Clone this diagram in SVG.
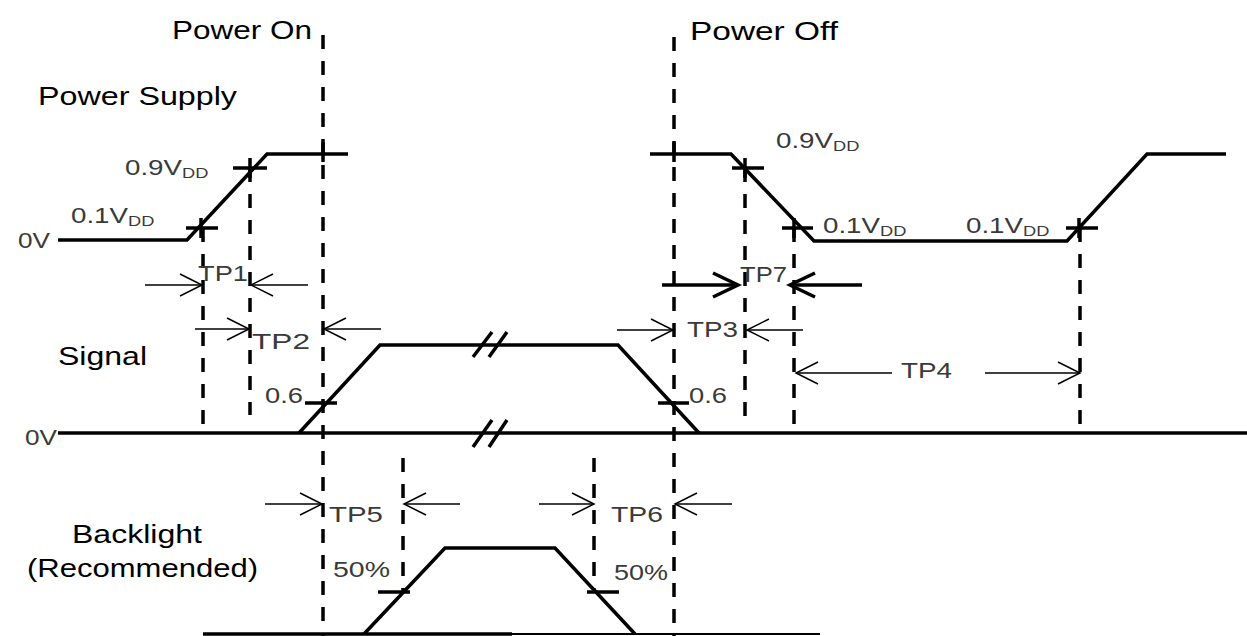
<svg xmlns="http://www.w3.org/2000/svg" width="1247" height="636" viewBox="0 0 1247 636">
<style>
.wave{fill:none;stroke:#000;stroke-width:3.5;stroke-linejoin:miter}
.tick{fill:none;stroke:#000;stroke-width:3.5}
.dash{fill:none;stroke:#000;stroke-width:3.5;stroke-dasharray:14 12}
.arr{fill:none;stroke:#000;stroke-width:1.5;marker-end:url(#head)}
.arrb{fill:none;stroke:#000;stroke-width:3.5;marker-end:url(#headb)}
.lbl{font-family:"Liberation Sans",Arial,sans-serif;font-size:26px;fill:#000}
.val{font-family:"Liberation Sans",Arial,sans-serif;font-size:22px;fill:#3a3a3a}
.sub{font-size:14.5px}
</style>
<defs>
<marker id="head" markerUnits="userSpaceOnUse" markerWidth="26" markerHeight="26" refX="23" refY="12" orient="auto">
<path d="M1,1 L23,12 L1,23" fill="none" stroke="#000" stroke-width="1.5"/>
</marker>
<marker id="headb" markerUnits="userSpaceOnUse" markerWidth="32" markerHeight="32" refX="27" refY="14" orient="auto">
<path d="M2,2 L27,14 L2,26" fill="none" stroke="#000" stroke-width="3.5"/>
</marker>
</defs>
<rect width="1247" height="636" fill="#fff"/>

<g id="labels">
<text class="lbl" x="172" y="39" textLength="140" lengthAdjust="spacingAndGlyphs">Power On</text>
<text class="lbl" x="690" y="40" textLength="148" lengthAdjust="spacingAndGlyphs">Power Off</text>
<text class="lbl" x="38" y="105" textLength="199" lengthAdjust="spacingAndGlyphs">Power Supply</text>
<text class="lbl" x="58" y="365" textLength="89" lengthAdjust="spacingAndGlyphs">Signal</text>
<text class="lbl" x="72" y="543" textLength="130" lengthAdjust="spacingAndGlyphs">Backlight</text>
<text class="lbl" x="27" y="577" textLength="231" lengthAdjust="spacingAndGlyphs">(Recommended)</text>
</g>

<g id="power-supply">
<path class="wave" d="M58,240 L187,240 L267,154 L348,154"/>
<path class="wave" d="M650,154 L731,154 L814,241 L1067,241 L1147,154 L1226,154"/>
<path class="tick" d="M186,228 H218 M201,218 V238 M233,168 H267 M250,158 V178 M323,142 V162 M674,142 V162 M732,168 H764 M745,158 V178 M782,228 H813 M794,218 V238 M1066,228 H1098 M1079,218 V238"/>
<text class="val" x="18" y="248" textLength="32" lengthAdjust="spacingAndGlyphs">0V</text>
<text class="val" transform="translate(125 175) scale(1.26 1)">0.9V<tspan class="sub" dy="3">DD</tspan></text>
<text class="val" transform="translate(71 223) scale(1.26 1)">0.1V<tspan class="sub" dy="3">DD</tspan></text>
<text class="val" transform="translate(776 148) scale(1.26 1)">0.9V<tspan class="sub" dy="3">DD</tspan></text>
<text class="val" transform="translate(823 233) scale(1.26 1)">0.1V<tspan class="sub" dy="3">DD</tspan></text>
<text class="val" transform="translate(966 233) scale(1.26 1)">0.1V<tspan class="sub" dy="3">DD</tspan></text>
</g>

<g id="signal">
<path class="wave" d="M58,433 L1247,433"/>
<path class="wave" d="M299,433 L380,345 L618,345 L699,433"/>
<path class="tick" d="M305,403 H337 M658,403 H689 M473,357 L492,332 M489,357 L507,332 M473,447 L492,420 M489,447 L507,420"/>
<text class="val" x="25" y="445" textLength="32" lengthAdjust="spacingAndGlyphs">0V</text>
<text class="val" x="265" y="403" textLength="38" lengthAdjust="spacingAndGlyphs">0.6</text>
<text class="val" x="689" y="403" textLength="38" lengthAdjust="spacingAndGlyphs">0.6</text>
</g>

<g id="backlight">
<path class="wave" d="M203,634 L512,634"/>
<path fill="none" stroke="#000" stroke-width="2" d="M512,634 L820,634"/>
<path class="wave" d="M364,634 L445,548 L555,548 L635,634"/>
<path class="tick" d="M378,592 H410 M587,592 H619"/>
<text class="val" x="333" y="577" textLength="57" lengthAdjust="spacingAndGlyphs">50%</text>
<text class="val" x="614" y="580" textLength="54" lengthAdjust="spacingAndGlyphs">50%</text>
</g>

<g id="connectors">
<path class="dash" d="M323,35 V636"/>
<path class="dash" d="M674,37 V636"/>
<path class="dash" d="M203,228 V433"/>
<path class="dash" d="M250,168 V415"/>
<path class="dash" d="M745,168 V418"/>
<path class="dash" d="M794,228 V433"/>
<path class="dash" d="M1080,228 V433"/>
<path class="dash" d="M403,458 V592"/>
<path class="dash" d="M594,458 V592"/>

<path class="arr" d="M145,285 H202"/>
<path class="arr" d="M308,285 H251"/>
<text class="val" x="198" y="281" textLength="50" lengthAdjust="spacingAndGlyphs">TP1</text>

<path class="arr" d="M195,329 H249"/>
<path class="arr" d="M381,329 H324"/>
<text class="val" x="252" y="349" textLength="58" lengthAdjust="spacingAndGlyphs">TP2</text>

<path class="arrb" d="M662,285 H738"/>
<path class="arrb" d="M862,285 H790"/>
<text class="val" x="740" y="282" textLength="47" lengthAdjust="spacingAndGlyphs">TP7</text>

<path class="arr" d="M617,330 H673"/>
<path class="arr" d="M803,330 H747"/>
<text class="val" x="687" y="337" textLength="51" lengthAdjust="spacingAndGlyphs">TP3</text>

<path class="arr" d="M892,373 H796"/>
<path class="arr" d="M985,373 H1080"/>
<text class="val" x="901" y="378" textLength="51" lengthAdjust="spacingAndGlyphs">TP4</text>

<path class="arr" d="M265,504 H322"/>
<path class="arr" d="M460,504 H404"/>
<text class="val" x="329" y="522" textLength="54" lengthAdjust="spacingAndGlyphs">TP5</text>

<path class="arr" d="M539,504 H594"/>
<path class="arr" d="M732,504 H675"/>
<text class="val" x="611" y="522" textLength="52" lengthAdjust="spacingAndGlyphs">TP6</text>
</g>
</svg>
